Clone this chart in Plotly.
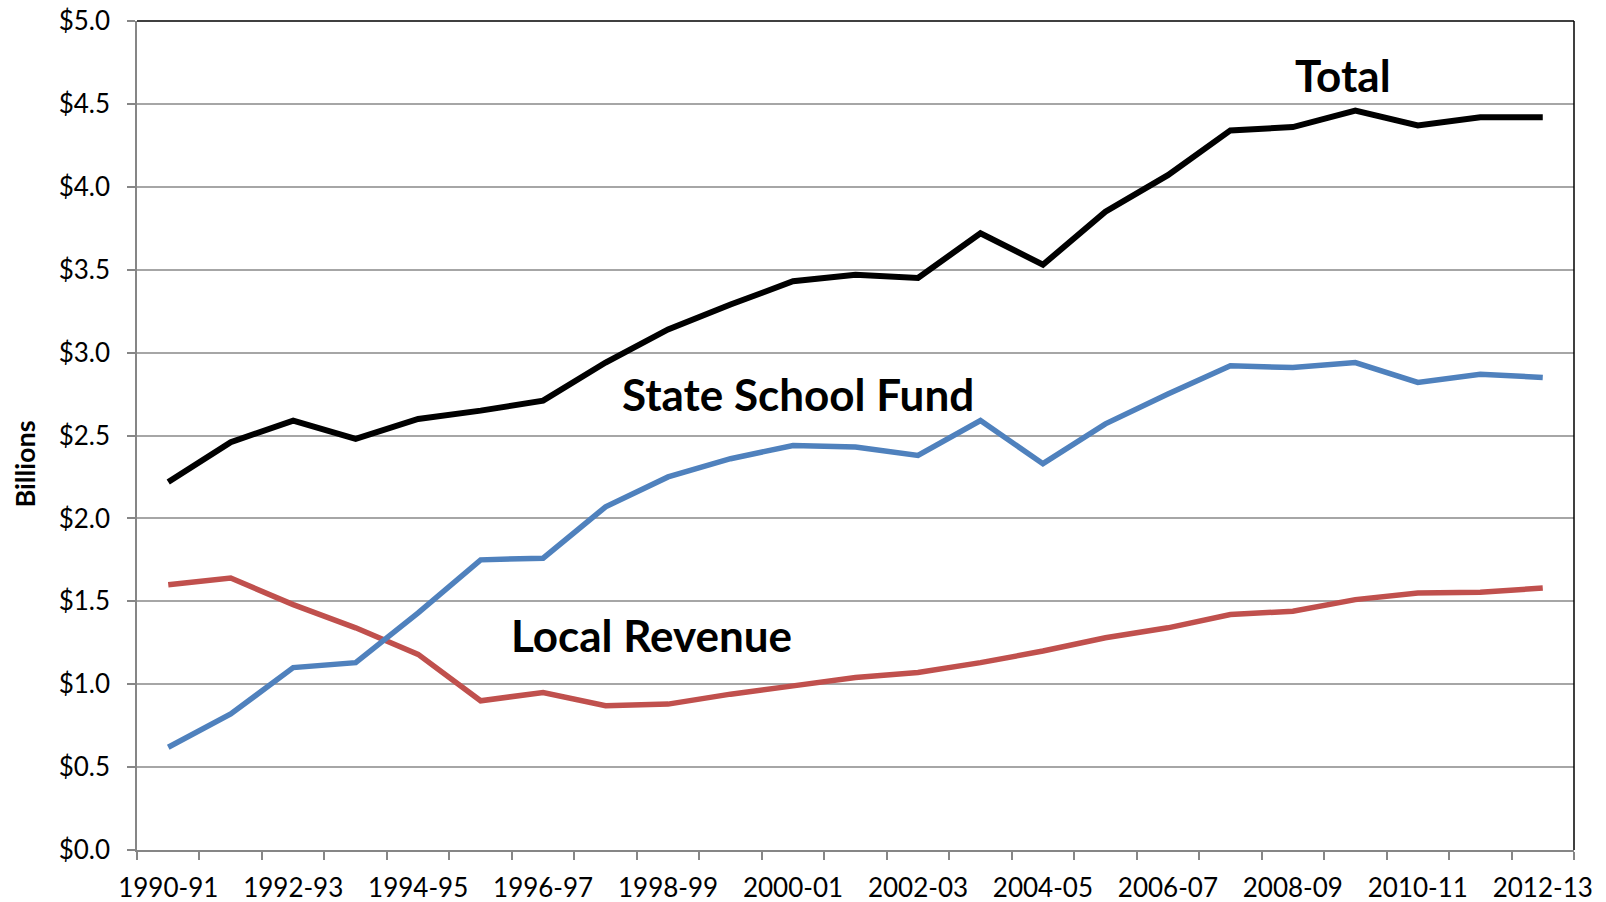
import plotly.graph_objects as go

years = ["1990-91","1991-92","1992-93","1993-94","1994-95","1995-96","1996-97","1997-98",
         "1998-99","1999-00","2000-01","2001-02","2002-03","2003-04","2004-05","2005-06",
         "2006-07","2007-08","2008-09","2009-10","2010-11","2011-12","2012-13"]

total = [2.22, 2.46, 2.59, 2.48, 2.60, 2.65, 2.71, 2.94, 3.14, 3.29, 3.43, 3.47, 3.45, 3.72,
         3.53, 3.85, 4.07, 4.34, 4.36, 4.46, 4.37, 4.42, 4.42]
state_fund = [0.62, 0.82, 1.10, 1.13, 1.43, 1.75, 1.76, 2.07, 2.25, 2.36, 2.44, 2.43, 2.38, 2.59,
              2.33, 2.57, 2.75, 2.92, 2.91, 2.94, 2.82, 2.87, 2.85]
local_rev = [1.60, 1.64, 1.48, 1.34, 1.18, 0.90, 0.95, 0.87, 0.88, 0.94, 0.99, 1.04, 1.07, 1.13,
             1.20, 1.28, 1.34, 1.42, 1.44, 1.51, 1.55, 1.555, 1.58]

tick_text = [y if i % 2 == 0 else "" for i, y in enumerate(years)]

FONT = "Lato, 'Open Sans', sans-serif"

fig = go.Figure()
fig.add_trace(go.Scatter(x=years, y=local_rev, mode="lines", name="Local Revenue",
                         line=dict(color="#C0504D", width=5.5), showlegend=False))
fig.add_trace(go.Scatter(x=years, y=state_fund, mode="lines", name="State School Fund",
                         line=dict(color="#4F81BD", width=5.5), showlegend=False))
fig.add_trace(go.Scatter(x=years, y=total, mode="lines", name="Total",
                         line=dict(color="#000000", width=6), showlegend=False))

fig.update_layout(
    width=1606, height=902,
    margin=dict(l=137, r=32, t=20.5, b=52),
    paper_bgcolor="white", plot_bgcolor="white",
    font=dict(family=FONT, color="black"),
    xaxis=dict(type="category", categoryorder="array", categoryarray=years,
               tickmode="array", tickvals=years, ticktext=tick_text, tickangle=0,
               tickson="boundaries", ticks="outside", ticklen=8, tickcolor="#868686", tickwidth=1.5,
               showgrid=False, showline=True, linecolor="#868686", linewidth=1.5,
               tickfont=dict(size=26, family=FONT), range=[-0.5, 22.5], fixedrange=True,
               automargin=False, ticklabelstandoff=14, ticklabeloverflow="allow"),
    yaxis=dict(range=[0, 5], dtick=0.5, tick0=0, tickformat="$.1f",
               ticks="outside", ticklen=8, tickcolor="#868686", tickwidth=1.5,
               showgrid=True, gridcolor="#A6A6A6", gridwidth=1.5,
               showline=True, linecolor="#868686", linewidth=1.5,
               zeroline=False, tickfont=dict(size=26, family=FONT), ticklabelstandoff=12,
               automargin=False, ticklabeloverflow="allow"),
)

# top and right black border
fig.add_shape(type="line", xref="paper", yref="paper", x0=0, x1=1, y0=1, y1=1,
              line=dict(color="black", width=1.5))
fig.add_shape(type="line", xref="paper", yref="paper", x0=1, x1=1, y0=0, y1=1,
              line=dict(color="black", width=1.5))

labels = [("Total", 0.839, 0.935), ("State School Fund", 0.460, 0.550), ("Local Revenue", 0.358, 0.259)]
for txt, lx, ly in labels:
    fig.add_annotation(text="<b>%s</b>" % txt, xref="paper", yref="paper", x=lx, y=ly,
                       showarrow=False, font=dict(size=44, family=FONT, color="black"),
                       xanchor="center", yanchor="middle")

fig.add_annotation(text="<b>Billions</b>", xref="paper", yref="paper", x=-0.0786, y=0.465,
                   textangle=-90, showarrow=False, font=dict(size=27, family=FONT, color="black"),
                   xanchor="center", yanchor="middle")

fig.write_html("out.html", config={"displayModeBar": False},
               post_script="document.body.style.margin='0';document.body.style.overflow='hidden';")
